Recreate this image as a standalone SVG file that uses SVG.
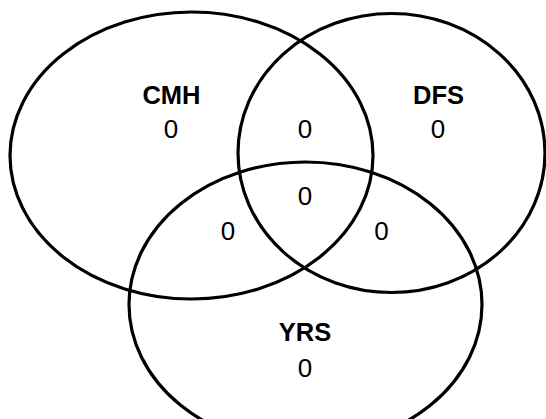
<svg xmlns="http://www.w3.org/2000/svg" width="546" height="419" viewBox="0 0 546 419">
<style>
.set{fill:none;stroke:#000;stroke-width:3.2}
.lbl{font-family:"Liberation Sans",Arial,sans-serif;font-weight:bold;font-size:25.5px;text-anchor:middle;fill:#000}
.num{font-family:"Liberation Sans",Arial,sans-serif;font-size:26px;text-anchor:middle;fill:#000}
</style>
<rect width="546" height="419" fill="#fff"/>
<g id="CMH">
<ellipse class="set" cx="191.5" cy="155.5" rx="181.5" ry="143.5"/>
<text class="lbl" x="171.5" y="104">CMH</text>
<text class="num" x="171" y="138">0</text>
</g>
<g id="DFS">
<ellipse class="set" cx="391.5" cy="153" rx="153.5" ry="139.5"/>
<text class="lbl" x="438.5" y="104">DFS</text>
<text class="num" x="438" y="138">0</text>
</g>
<g id="YRS">
<ellipse class="set" cx="305.5" cy="304.5" rx="176.5" ry="142.5"/>
<text class="lbl" x="305" y="341">YRS</text>
<text class="num" x="305" y="377">0</text>
</g>
<g id="intersections">
<text class="num" x="305" y="138">0</text>
<text class="num" x="305" y="205">0</text>
<text class="num" x="228" y="240">0</text>
<text class="num" x="381.5" y="240">0</text>
</g>
<g id="connectors"/>
</svg>
